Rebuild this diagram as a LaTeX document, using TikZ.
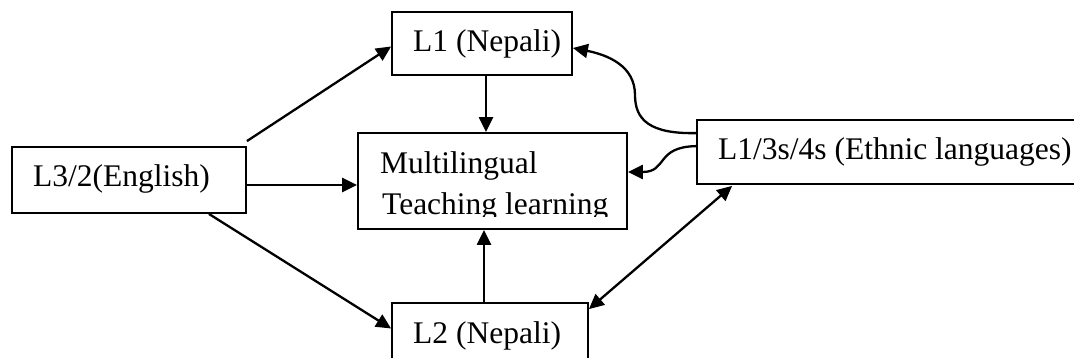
\documentclass[tikz,border=0pt]{standalone}
\usepackage{fontspec}
\setmainfont{Liberation Serif}
\usetikzlibrary{arrows.meta,calc}
\tikzset{
  box/.style={draw, line width=1.8pt, inner sep=0pt, rectangle},
  lbl/.style={anchor=base west, inner sep=0pt, font=\fontsize{31.5}{38}\selectfont},
  arr/.style={line width=2.3pt, -{Triangle[length=15pt,width=14pt]}},
  darr/.style={line width=2.3pt, {Triangle[length=15pt,width=14pt]}-{Triangle[length=15pt,width=14pt]}}
}
\begin{document}
\begin{tikzpicture}[x=1pt,y=-1pt]
\useasboundingbox (0,0) rectangle (1074,358);
\clip (0,0) rectangle (1074,358);
% boxes
\node[box, minimum width=180pt, minimum height=63pt] (l1) at (482,43.5) {};
\node[box, minimum width=269pt, minimum height=96pt] (ml) at (492.5,181) {};
\node[box, minimum width=196pt, minimum height=67pt] (l2) at (490,336.5) {};
\node[box, minimum width=234pt, minimum height=66pt] (l3) at (129,180) {};
\node[box, minimum width=393pt, minimum height=64pt] (eth) at (893.5,152) {};
% labels
\node[lbl] (t1) at (413,52) {L1 (Nepali)};
\node[lbl] (t2) at (413,343) {L2 (Nepali)};
\node[lbl] (t3) at (33,187) {L3/2(English)};
\node[lbl] (te) at (718,160) {L1/3s/4s (Ethnic languages)};
\begin{scope}
\clip (0,0) rectangle (1074,216.5);
\node[lbl] (tm1) at (380,174) {Multilingual};
\node[lbl] (tm2) at (382,215) {Teaching learning};
\end{scope}
% connectors
\draw[arr] ($(l3.north east)+(0,-5)$) -- ($(l1.west)+(0,3)$);
\draw[arr] ($(l3.east)+(0,5)$) -- ($(ml.west)+(0,4)$);
\draw[arr] ($(l3.south east)+(-38,0)$) -- ($(l2.west)+(0,-8)$);
\draw[arr] ($(l1.south)+(4,0)$) -- ($(ml.north)+(-6.5,0)$);
\draw[arr] ($(l2.north)+(-6,0)$) -- ($(ml.south)+(-8.5,0)$);
\draw[arr] ($(eth.north west)+(0,14)$) .. controls (650,134) and (635,120) .. (635,95)
  .. controls (635,66) and (608,55) .. ($(l1.east)+(0,4.5)$);
\draw[arr] ($(eth.north west)+(0,27)$) .. controls (655,147) and (668,172) .. ($(ml.east)+(0,-9)$);
\draw[darr] ($(l2.north east)+(0,7)$) -- ($(eth.south west)+(36,1)$);
\end{tikzpicture}
\end{document}
